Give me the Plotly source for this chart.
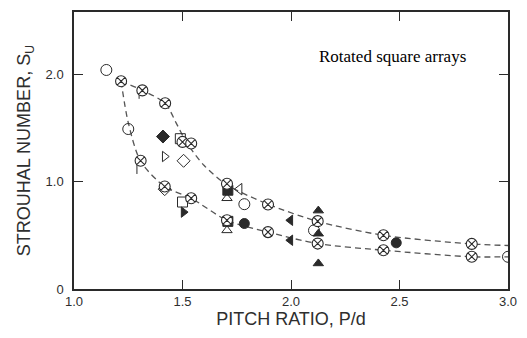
import plotly.graph_objects as go

# Dashed fit curves
upper_curve_x = [1.217, 1.315, 1.42, 1.47, 1.52, 1.60, 1.705, 1.894, 2.123, 2.426, 2.833, 3.0]
upper_curve_y = [1.935, 1.85, 1.73, 1.55, 1.36, 1.15, 0.97, 0.79, 0.63, 0.50, 0.42, 0.405]
lower_curve_x = [1.217, 1.25, 1.307, 1.418, 1.54, 1.705, 1.894, 2.123, 2.426, 2.833, 3.0]
lower_curve_y = [1.935, 1.55, 1.19, 0.954, 0.845, 0.64, 0.53, 0.423, 0.361, 0.30, 0.30]

# Crossed-circle data points
xcirc_x = [1.217, 1.315, 1.42, 1.50, 1.54, 1.705, 1.894, 2.123, 2.426, 2.833,
           1.307, 1.418, 1.54, 1.705, 1.894, 2.123, 2.426, 2.833]
xcirc_y = [1.935, 1.85, 1.73, 1.37, 1.355, 0.98, 0.787, 0.632, 0.50, 0.42,
           1.194, 0.954, 0.845, 0.64, 0.53, 0.423, 0.361, 0.30]

open_circle_x = [1.149, 1.25, 1.785, 2.106, 3.0]
open_circle_y = [2.04, 1.49, 0.79, 0.546, 0.30]
filled_circle_x = [1.785, 2.485]
filled_circle_y = [0.61, 0.43]
filled_diamond_x = [1.41]
filled_diamond_y = [1.42]
open_diamond_x = [1.505, 1.418]
open_diamond_y = [1.194, 0.93]
open_tri_right_x = [1.418]
open_tri_right_y = [1.234]
filled_tri_right_x = [1.505]
filled_tri_right_y = [0.716]
open_square_x = [1.49, 1.50]
open_square_y = [1.40, 0.81]
filled_square_x = [1.709, 1.709]
filled_square_y = [0.92, 0.63]
open_tri_up_x = [1.705, 1.705]
open_tri_up_y = [0.845, 0.546]
open_tri_left_x = [1.762]
open_tri_left_y = [0.93]
filled_tri_left_x = [1.997, 1.997]
filled_tri_left_y = [0.64, 0.454]
filled_tri_up_x = [2.126, 2.126, 2.126]
filled_tri_up_y = [0.73, 0.515, 0.238]
errbar_x = [1.29, 1.30]
errbar_y = [1.13, 1.83]

x_ticks = [1.0, 1.5, 2.0, 2.5, 3.0]
x_ticktext = ["1.0", "1.5", "2.0", "2.5", "3.0"]
y_ticks = [0, 1.0, 2.0]
y_ticktext = ["0", "1.0", "2.0"]

ink = "#2a2a2a"
txt = "#2e2e2e"
fig = go.Figure()

for cx, cy in [(upper_curve_x, upper_curve_y), (lower_curve_x, lower_curve_y)]:
    fig.add_trace(go.Scatter(x=cx, y=cy, mode="lines",
                             line=dict(color="#555", width=1.3, dash="6px,4px", shape="spline", smoothing=0.8),
                             hoverinfo="skip", showlegend=False))

def add(xs, ys, symbol, size=9, width=1.0):
    fig.add_trace(go.Scatter(x=xs, y=ys, mode="markers", showlegend=False,
                             marker=dict(symbol=symbol, size=size, color=ink,
                                         line=dict(color=ink, width=width))))

add(errbar_x, errbar_y, "line-ns-open", size=9)
add(open_circle_x, open_circle_y, "circle-open", size=11)
add(filled_circle_x, filled_circle_y, "circle", size=10)
add(filled_diamond_x, filled_diamond_y, "diamond", size=10)
add(open_diamond_x, open_diamond_y, "diamond-open", size=10)
add(open_tri_right_x, open_tri_right_y, "triangle-right-open", size=9)
add(filled_tri_right_x, filled_tri_right_y, "triangle-right", size=9)
add(open_square_x, open_square_y, "square-open", size=10)
add(filled_square_x, filled_square_y, "square", size=10)
add(open_tri_up_x, open_tri_up_y, "triangle-up-open", size=9)
add(open_tri_left_x, open_tri_left_y, "triangle-left-open", size=10)
add(filled_tri_left_x, filled_tri_left_y, "triangle-left", size=9)
add(filled_tri_up_x, filled_tri_up_y, "triangle-up", size=9)
fig.add_trace(go.Scatter(x=xcirc_x, y=xcirc_y, mode="markers", showlegend=False,
                         marker=dict(symbol="circle-x", size=11, color="white",
                                     line=dict(color=ink, width=1.1))))

axis_common = dict(showline=True, linecolor=ink, linewidth=1.5, mirror="ticks",
                   ticks="inside", ticklen=9, tickwidth=1.2, tickcolor=ink,
                   showgrid=False, zeroline=False,
                   tickfont=dict(family="Liberation Sans, Arial", size=13, color=txt))

fig.update_layout(
    width=527, height=338,
    margin=dict(l=74, r=12, t=10, b=49),
    plot_bgcolor="white", paper_bgcolor="white",
    xaxis=dict(range=[1.0, 3.0], tickvals=x_ticks, ticktext=x_ticktext,
               title=dict(text="PITCH RATIO, P/d", standoff=2,
                          font=dict(family="Liberation Sans, Arial", size=18, color=txt)),
               **axis_common),
    yaxis=dict(range=[0, 2.58], tickvals=y_ticks, ticktext=y_ticktext,
               ticklabelstandoff=6,
               title=dict(text="STROUHAL NUMBER, S<sub>U</sub>", standoff=10,
                          font=dict(family="Liberation Sans, Arial", size=18, color=txt)),
               **axis_common),
    annotations=[dict(x=2.815, y=2.17, xref="x", yref="y", xanchor="right", yanchor="middle",
                      text="Rotated square arrays", showarrow=False,
                      font=dict(family="Liberation Serif, Times New Roman", size=17, color="black"))],
)

fig.write_html("out.html")
